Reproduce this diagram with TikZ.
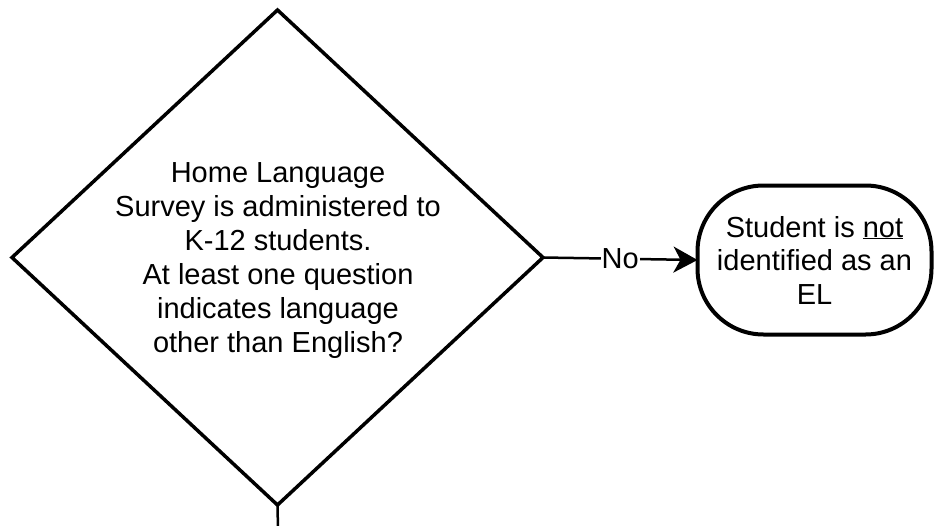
\documentclass[tikz,border=0pt]{standalone}
\usepackage{fontspec}
\setmainfont{Liberation Sans}
\usetikzlibrary{shapes.geometric,arrows.meta}
\begin{document}
\begin{tikzpicture}[x=1pt,y=-1pt,
  decision/.style={diamond, draw, line width=3.5pt, minimum width=531pt, minimum height=495pt,
    inner sep=0pt, outer sep=0pt, align=center},
  qtext/.style={align=center, inner sep=0pt, font=\fontsize{29}{34}\selectfont},
  endbox/.style={draw, line width=4pt, rounded corners=66pt, minimum width=234pt,
    minimum height=149pt, inner sep=0pt, outer sep=0pt, align=center,
    font=\fontsize{29}{33.5}\selectfont},
  flow/.style={line width=2.5pt, -{Stealth[length=24pt,width=26pt,inset=7pt]}},
  lbl/.style={fill=white, inner sep=1pt, font=\fontsize{29}{30}\selectfont}
]
\useasboundingbox[fill=white] (0,0) rectangle (934,525);
\node[decision] (q) at (277.5,257.5) {};
\node[qtext] (qt) at (278,261) {Home Language\\Survey is administered to\\K-12 students.\\At least one question\\indicates language\\other than English?};
\node[endbox] (e) at (814.5,260) {Student is \underline{not}\\identified as an\\EL};
\coordinate (down) at (278,530);
\draw[flow] (q.east) -- node[lbl] {No} (e.west);
\draw[line width=2.5pt] (q.south) -- (down);
\end{tikzpicture}
\end{document}
